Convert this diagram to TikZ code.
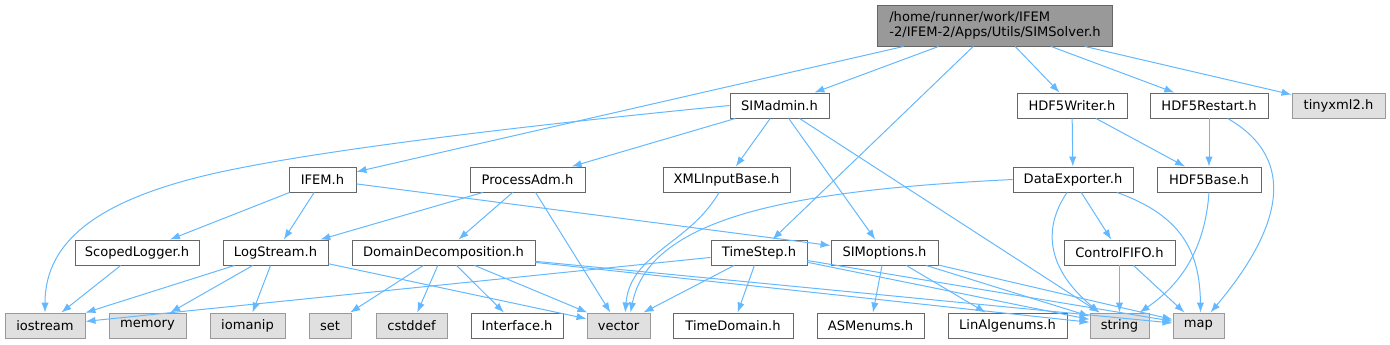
\documentclass[tikz,border=0pt]{standalone}
\usepackage{fontspec}
\setmainfont{DejaVu Sans}
\usepackage{tikz}
\usetikzlibrary{arrows.meta}
\definecolor{edgeblue}{HTML}{63B8FF}
\definecolor{rimgrey}{HTML}{666666}
\definecolor{sysfill}{HTML}{E0E0E0}
\definecolor{sysrim}{HTML}{999999}
\definecolor{rootfill}{HTML}{999999}
\newlength{\pxu}
\setlength{\pxu}{0.75pt}

\begin{document}
\begin{tikzpicture}[x=0.75pt, y=-0.75pt, every node/.style={font=\fontsize{9.8pt}{11.25pt}\selectfont}, >={Latex[length=7.5pt,width=5.5pt]}]
\tikzstyle{hdr}=[draw=rimgrey, line width=0.7pt, fill=white, inner sep=0pt, minimum height=25\pxu]
\tikzstyle{sys}=[draw=sysrim, line width=0.7pt, fill=sysfill, inner sep=0pt, minimum height=25\pxu]
\tikzstyle{rootfile}=[draw=rimgrey, line width=0.7pt, fill=rootfill, inner sep=0pt, align=left, minimum height=41\pxu]
\tikzstyle{dep}=[->, draw=edgeblue, line width=0.75pt]
\useasboundingbox (0,0) rectangle (1390,344);
% top row
\node[rootfile, minimum width=235\pxu] (solver) at (995,25.5) {/home/runner/work/IFEM\\-2/IFEM-2/Apps/Utils/SIMSolver.h};
\node[hdr, minimum width=99\pxu] (simadmin) at (779.5,105.5) {SIMadmin.h};
\node[hdr, minimum width=110\pxu] (hdfwriter) at (1072,105.5) {HDF5Writer.h};
\node[hdr, minimum width=118\pxu] (hdfrestart) at (1209,105.5) {HDF5Restart.h};
\node[sys, minimum width=93\pxu] (tinyxml) at (1338.5,105.5) {tinyxml2.h};
% second row
\node[hdr, minimum width=67\pxu] (ifem) at (322.5,179.5) {IFEM.h};
\node[hdr, minimum width=115\pxu] (procadm) at (527.5,179.5) {ProcessAdm.h};
\node[hdr, minimum width=127\pxu] (xmlinput) at (726.5,179.5) {XMLInputBase.h};
\node[hdr, minimum width=120\pxu] (dataexp) at (1073,179.5) {DataExporter.h};
\node[hdr, minimum width=104\pxu] (hdfbase) at (1209,179.5) {HDF5Base.h};
% third row
\node[hdr, minimum width=124\pxu] (scopedlog) at (137,252.5) {ScopedLogger.h};
\node[hdr, minimum width=105\pxu] (logstream) at (275.5,252.5) {LogStream.h};
\node[hdr, minimum width=183\pxu] (domdec) at (443.5,252.5) {DomainDecomposition.h};
\node[hdr, minimum width=96\pxu] (timestep) at (759,252.5) {TimeStep.h};
\node[hdr, minimum width=107\pxu] (simopt) at (884.5,252.5) {SIMoptions.h};
\node[hdr, minimum width=111\pxu] (ctrlfifo) at (1119.5,252.5) {ControlFIFO.h};
% bottom row
\node[sys, minimum width=80\pxu] (iostream) at (45,325.5) {iostream};
\node[sys, minimum width=77\pxu] (memory) at (147.5,325.5) {memory};
\node[sys, minimum width=75\pxu] (iomanip) at (247.5,325.5) {iomanip};
\node[sys, minimum width=42\pxu] (stdset) at (330,325.5) {set};
\node[sys, minimum width=71\pxu] (cstddef) at (411.5,325.5) {cstddef};
\node[hdr, minimum width=92\pxu] (interface) at (517,325.5) {Interface.h};
\node[sys, minimum width=63\pxu] (vector) at (618.5,325.5) {vector};
\node[hdr, minimum width=120\pxu] (timedomain) at (733,325.5) {TimeDomain.h};
\node[hdr, minimum width=107\pxu] (asmenums) at (870.5,325.5) {ASMenums.h};
\node[hdr, minimum width=119\pxu] (linalg) at (1007.5,325.5) {LinAlgenums.h};
\node[sys, minimum width=59\pxu] (stdstring) at (1119.5,325.5) {string};
\node[sys, minimum width=51\pxu] (stdmap) at (1198.5,325.5) {map};
% includes
\draw[dep] (solver) -- (ifem);
\draw[dep] (solver) -- (simadmin);
\draw[dep] (solver) -- (timestep);
\draw[dep] (solver) -- (hdfwriter);
\draw[dep] (solver) -- (hdfrestart);
\draw[dep] (solver) -- (tinyxml);
\draw[dep] (simadmin.west) .. controls (500,128) and (330,150) .. (240,168) .. controls (100,195) and (45,240) .. (iostream.north);
\draw[dep] (simadmin) -- (procadm);
\draw[dep] (simadmin) -- (xmlinput);
\draw[dep] (simadmin) -- (simopt);
\draw[dep] (simadmin) -- (stdstring);
\draw[dep] (ifem) -- (scopedlog);
\draw[dep] (ifem) -- (logstream);
\draw[dep] (ifem) -- (simopt);
\draw[dep] (procadm) -- (logstream);
\draw[dep] (procadm) -- (domdec);
\draw[dep] (procadm) -- (vector);
\draw[dep] (xmlinput) to[out=-120,in=85] ([xshift=5pt]vector.north);
\draw[dep] (dataexp.west) .. controls (800,190) and (650,215) .. ([xshift=9pt]vector.north);
\draw[dep] ([xshift=-4.5pt]dataexp.south) .. controls (1035,240) and (1060,280) .. ([xshift=-15pt]stdstring.north);
\draw[dep] (dataexp) -- (ctrlfifo);
\draw[dep] ([xshift=33pt]dataexp.south) .. controls (1180,215) and (1200,250) .. ([xshift=1.5pt]stdmap.north);
\draw[dep] (hdfwriter) -- (dataexp);
\draw[dep] (hdfwriter) -- (hdfbase);
\draw[dep] (hdfrestart) -- (hdfbase);
\draw[dep] ([xshift=14pt]hdfrestart.south) .. controls (1300,160) and (1280,230) .. ([xshift=9pt]stdmap.north);
\draw[dep] (hdfbase.south) .. controls (1205,250) and (1180,285) .. ([xshift=15pt]stdstring.north);
\draw[dep] (ctrlfifo) -- (stdstring);
\draw[dep] (ctrlfifo) -- (stdmap);
\draw[dep] (scopedlog) -- (iostream);
\draw[dep] (logstream) -- (iostream);
\draw[dep] (logstream) -- (memory);
\draw[dep] (logstream) -- (iomanip);
\draw[dep] (logstream) -- (vector);
\draw[dep] (domdec) -- (stdset);
\draw[dep] (domdec) -- (cstddef);
\draw[dep] (domdec) -- (interface);
\draw[dep] (domdec) -- (vector);
\draw[dep] (domdec) -- (stdstring);
\draw[dep] (domdec) -- (stdmap);
\draw[dep] (timestep) -- (iostream);
\draw[dep] (timestep) -- (vector);
\draw[dep] (timestep) -- (timedomain);
\draw[dep] (timestep) -- (stdstring);
\draw[dep] (timestep) -- (stdmap);
\draw[dep] (simopt) -- (asmenums);
\draw[dep] (simopt) -- (linalg);
\draw[dep] (simopt) -- (stdstring);
\draw[dep] (simopt) -- (stdmap);
\end{tikzpicture}
\end{document}
